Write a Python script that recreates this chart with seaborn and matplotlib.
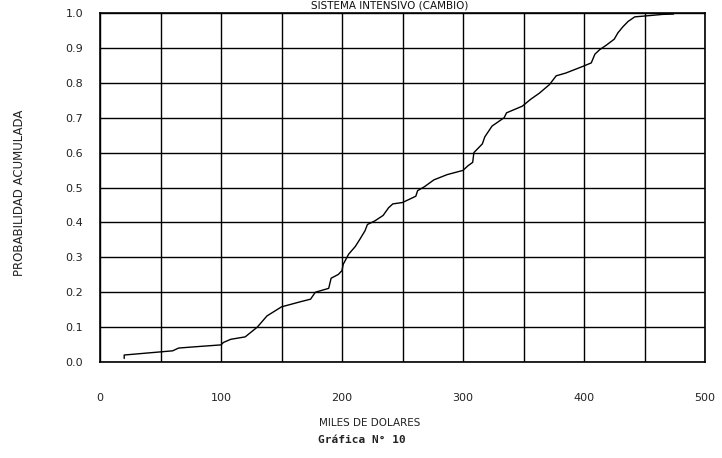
import matplotlib
matplotlib.use("Agg")
import matplotlib.pyplot as plt
import seaborn as sns
import numpy as np
import pandas as pd

# Data (miles de dólares vs probabilidad acumulada)
miles_dolares = [20, 20, 30, 50, 60, 65, 84, 100, 102, 108, 120, 130, 138, 150, 166,
                 174, 178, 189, 191, 197, 200, 201, 205.5, 211, 215, 219, 221, 227,
                 234, 238.5, 242, 250, 261, 262.5, 268, 276, 287, 300, 304, 308,
                 309, 316, 318, 324, 334, 336, 349, 356, 363, 371.5, 377, 385, 399,
                 406, 409, 413, 418.5, 425, 428, 432, 436.5, 442, 449, 465, 474]
prob_acumulada = [0.010, 0.020, 0.023, 0.029, 0.032, 0.040, 0.045, 0.049, 0.056, 0.065,
                  0.072, 0.100, 0.132, 0.158, 0.173, 0.180, 0.200, 0.211, 0.240, 0.251,
                  0.262, 0.280, 0.309, 0.331, 0.353, 0.376, 0.394, 0.404, 0.420, 0.442,
                  0.453, 0.457, 0.475, 0.491, 0.502, 0.522, 0.537, 0.549, 0.562, 0.572,
                  0.600, 0.625, 0.645, 0.676, 0.700, 0.714, 0.733, 0.753, 0.770, 0.795,
                  0.820, 0.828, 0.847, 0.857, 0.882, 0.895, 0.908, 0.925, 0.943, 0.960,
                  0.976, 0.989, 0.991, 0.996, 0.997]

x_ticks = [0, 50, 100, 150, 200, 250, 300, 350, 400, 450, 500]
x_labels = ["0", "", "100", "", "200", "", "300", "", "400", "", "500"]
y_ticks = [0.0, 0.1, 0.2, 0.3, 0.4, 0.5, 0.6, 0.7, 0.8, 0.9, 1.0]
y_labels = ["0.0", "0.1", "0.2", "0.3", "0.4", "0.5", "0.6", "0.7", "0.8", "0.9", "1.0"]

titulo = "SISTEMA INTENSIVO (CAMBIO)"
xlabel = "MILES DE DOLARES"
ylabel = "PROBABILIDAD ACUMULADA"
pie = "Gráfica N° 10"

df = pd.DataFrame({"x": miles_dolares, "y": prob_acumulada})

sns.set_style("white")
plt.rcParams["font.family"] = ["DejaVu Sans"]

fig = plt.figure(figsize=(7.22, 4.58), dpi=100)
ax = fig.add_axes([100 / 722, 1 - 362 / 458, 605 / 722, 349 / 458])

sns.lineplot(data=df, x="x", y="y", ax=ax, color="black", linewidth=1.0,
             estimator=None, sort=False)

ax.set_xlim(0, 500)
ax.set_ylim(0, 1.0)
ax.set_xticks(x_ticks)
ax.set_xticklabels(x_labels, fontsize=8, color="#222222")
ax.set_yticks(y_ticks)
ax.set_yticklabels(y_labels, fontsize=8, color="#222222")
ax.grid(True, color="black", linewidth=1.0)
ax.set_axisbelow(True)
for s in ax.spines.values():
    s.set_color("black")
    s.set_linewidth(1.2)
ax.tick_params(axis="x", length=0, pad=22)
ax.tick_params(axis="y", length=4, width=1.0, color="black", pad=8, direction="out")
ax.set_xlabel("")
ax.set_ylabel("")

fig.text(390 / 722, 1 - 0.5 / 458, titulo, ha="center", va="top", fontsize=7.5,
         color="#111111")
fig.text(20 / 722, 1 - 193 / 458, ylabel, ha="center", va="center", rotation=90,
         fontsize=8.5, color="#222222")
fig.text(370 / 722, 1 - 423 / 458, xlabel, ha="center", va="center", fontsize=7.5,
         color="#222222")
fig.text(362 / 722, 1 - 440 / 458, pie, ha="center", va="center", fontsize=8,
         family="DejaVu Sans Mono", fontweight="bold", color="#222222")

fig.savefig("out.png", dpi=100)
